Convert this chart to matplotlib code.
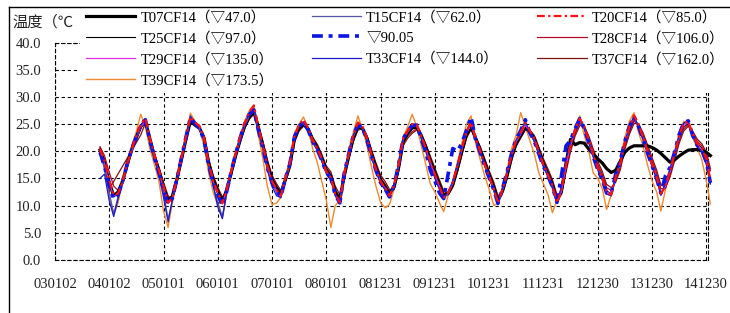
import numpy as np
import pandas as pd
import matplotlib
matplotlib.use("Agg")
import matplotlib.pyplot as plt
from matplotlib.lines import Line2D

nan = np.nan

# ---------------- data ----------------
dates = list(pd.date_range("2003-11-01", "2015-01-01", freq="MS")) + [pd.Timestamp("2015-01-28")]

x_tick_labels = ["030102", "040102", "050101", "060101", "070101", "080101", "081231",
                 "091231", "101231", "111231", "121230", "131230", "141230"]
y_ticks = [0.0, 5.0, 10.0, 15.0, 20.0, 25.0, 30.0, 35.0, 40.0]

T07 = [20.2, 17.8,
       14.3, 11.8, 12.5, 14.5, 17.5, 20.3, 22.5, 24.6, 25.5, 22.3, 19.0, 16.5,
       13.4, 10.8, 11.7, 14.8, 18.4, 22.2, 25.6, 24.8, 24.2, 22.4, 17.8, 14.8,
       12.6, 10.8, 12.8, 16.0, 19.2, 22.1, 24.6, 26.3, 27.3, 24.4, 21.0, 17.5,
       14.8, 13.2, 12.2, 14.8, 17.4, 22.3, 24.2, 25.0, 24.1, 22.2, 20.7, 18.8,
       16.5, 15.4, 12.6, 11.0, 15.6, 19.2, 22.4, 24.5, 24.2, 22.4, 19.5, 16.9,
       14.7, 13.4, 12.2, 13.4, 16.9, 21.8, 23.3, 24.3, 24.4, 22.9, 20.7, 18.3,
       16.0, 13.8, 11.9, 12.3, 13.8, 16.8, 20.0, 23.0, 24.5, 22.4, 20.3, 18.0,
       15.6, 13.4, 10.9, 12.7, 15.5, 19.0, 21.4, 22.9, 24.4, 23.6, 22.3, 20.0,
       17.7, 15.8, 13.9, 10.9, 12.6, 17.8, 22.2, 21.2, 21.6, 21.5, 20.4, 19.5,
       18.6, 17.8, 16.8, 16.1, 16.5, 18.2, 19.8, 20.6, 21.0, 21.0, 21.0, 21.0,
       20.7, 20.2, 19.6, 18.8, 18.0, 18.4, 19.1, 19.7, 20.2, 20.3, 20.3, 20.2,
       19.8, 19.2]

T15 = [19.6, 16.8,
       12.5, 8.5, 11.6, 14.0, 17.2, 20.0, 22.2, 24.4, 25.4, 21.8, 18.6, 15.6,
       12.3, 7.5, 10.9, 14.5, 18.3, 22.1, 26.2, 24.8, 24.0, 21.9, 17.1, 13.6,
       10.6, 8.0, 12.1, 15.9, 19.1, 22.0, 24.6, 26.4, 27.5, 23.9, 20.4, 16.9,
       14.0, 12.4, 11.4, 14.7, 17.4, 22.6, 24.5, 25.1, 23.8, 21.7, 20.2, 18.3,
       16.0, 14.8, 11.8, 10.4, 15.9, 19.4, 22.8, 24.9, 24.2, 22.0, 19.0, 16.3,
       14.1, 12.9, 11.5, 13.6, 17.3, 22.2, 23.6, 24.7, 24.6, 22.5, 20.1, 17.6,
       15.3, 13.1, 11.2, 12.3, 14.3, 17.4, 20.5, 23.6, 25.2, 22.0, 19.7, 17.3,
       15.0, 12.8, 10.3, 13.0, 16.0, 19.4, 21.9, 23.4, 25.0, 23.3, 21.8, 19.4,
       17.2, 15.3, 13.3, 10.4, 12.9, 17.8, 21.3, 24.1, 25.9, 24.1, 21.5, 18.9,
       16.5, 14.6, 12.1, 11.8, 15.5, 18.0, 21.6, 24.4, 26.3, 24.5, 22.1, 19.6,
       17.2, 14.8, 11.9, 13.9, 16.5, 19.6, 22.8, 25.0, 25.5, 22.8, 21.0, 20.1,
       17.8, 14.2]

T20 = [20.4, 18.2,
       14.8, 12.0, 12.2, 14.4, 17.6, 20.4, 22.8, 25.0, 26.0, 22.5, 19.3, 16.5,
       13.6, 10.5, 11.4, 14.9, 18.7, 22.7, 26.3, 25.3, 24.6, 22.5, 17.7, 14.6,
       12.4, 10.4, 12.8, 16.3, 19.6, 22.7, 25.2, 27.2, 28.4, 24.5, 21.0, 17.3,
       14.5, 12.9, 11.8, 15.1, 17.8, 22.9, 24.9, 25.8, 24.3, 22.1, 20.6, 18.6,
       16.3, 15.2, 12.2, 10.6, 16.0, 19.6, 23.0, 25.3, 24.6, 22.4, 19.3, 16.6,
       14.4, 13.2, 11.8, 13.7, 17.4, 22.4, 23.8, 25.0, 24.9, 22.9, 20.5, 18.0,
       15.7, 13.5, 11.5, 12.4, 14.3, 17.3, 20.5, 23.6, 25.3, 22.5, 20.1, 17.7,
       15.3, 13.1, 10.5, 13.0, 15.9, 19.4, 22.0, 23.5, 25.2, 23.8, 22.3, 19.9,
       17.5, 15.6, 13.7, 10.5, 12.7, 17.5, 21.2, 24.1, 26.0, 24.6, 22.0, 19.4,
       16.9, 15.0, 12.5, 12.0, 15.3, 17.8, 21.6, 24.5, 26.6, 25.0, 22.6, 20.1,
       17.6, 15.2, 12.2, 13.6, 16.3, 19.5, 22.8, 25.1, 25.5, 23.2, 21.4, 20.6,
       18.6, 14.6]

T25 = [20.1, 18.1,
       14.6, 12.0, 12.4, 14.2, 17.3, 20.0, 22.3, 24.4, 25.6, 22.3, 19.2, 16.5,
       13.6, 10.7, 11.6, 14.7, 18.4, 22.3, 25.8, 25.0, 24.3, 22.4, 17.7, 14.7,
       12.6, 10.6, 12.6, 16.0, 19.2, 22.2, 24.7, 26.5, 27.5, 24.3, 21.0, 17.4,
       14.7, 13.1, 12.0, 14.8, 17.4, 22.4, 24.3, 25.1, 24.1, 22.1, 20.6, 18.7,
       16.4, 15.4, 12.4, 10.8, 15.7, 19.2, 22.5, 24.6, 24.3, 22.4, 19.4, 16.8,
       14.6, 13.4, 12.0, 13.4, 17.0, 21.9, 23.3, 24.4, 24.5, 22.9, 20.6, 18.2,
       15.9, 13.7, 11.7, 12.1, 13.9, 16.9, 20.0, 23.1, 24.6, 22.4, 20.2, 17.9,
       15.5, 13.3, 10.7, 12.7, 15.6, 19.0, 21.5, 22.9, 24.5, 23.7, 22.3, 20.0,
       17.7, 15.8, 13.9, 10.7, 12.4, 17.1, 20.7, 23.6, 25.5, 24.5, 22.0, 19.5,
       17.1, 15.2, 12.7, 12.2, 15.0, 17.4, 21.1, 23.9, 25.9, 24.9, 22.6, 20.2,
       17.8, 15.4, 12.4, 13.3, 15.9, 19.0, 22.3, 24.5, 25.1, 23.2, 21.4, 20.6,
       18.6, 15.0]

V9005 = [19.8, 17.2,
         13.8, 11.2, 12.0, 14.4, 17.6, 20.4, 22.6, 24.8, 25.8, 22.0, 18.8, 16.0,
         13.0, 10.2, 11.3, 14.9, 18.7, 22.6, 26.2, 25.1, 24.2, 22.0, 17.3, 14.2,
         12.0, 10.0, 12.5, 16.2, 19.5, 22.5, 25.0, 26.8, 27.6, 23.9, 20.5, 16.9,
         14.2, 12.6, 11.6, 15.0, 17.7, 22.7, 24.6, 25.3, 23.9, 21.8, 20.3, 18.4,
         16.1, 15.0, 12.0, 10.5, 16.0, 19.6, 22.9, 24.9, 24.3, 22.0, 19.0, 16.4,
         14.2, 13.0, 11.6, 13.7, 17.5, 22.3, 23.7, 24.8, 24.8, 22.3, 19.8, 16.5,
         14.5, 12.3, 11.3, 16.0, 20.5, 20.0, 21.5, 23.8, 26.3, 22.2, 19.8, 17.4,
         15.1, 12.9, 10.4, 13.2, 16.2, 19.6, 22.2, 23.8, 25.8, 23.4, 21.8, 19.5,
         17.2, 15.4, 13.5, 10.6, 15.5, 21.0, 22.0, 24.2, 26.0, 24.2, 21.6, 19.0,
         16.6, 14.7, 12.3, 12.3, 15.8, 18.2, 21.8, 24.5, 26.4, 24.6, 22.2, 19.7,
         17.3, 14.9, 12.3, 15.5, 17.0, 19.8, 23.0, 25.2, 25.6, 22.9, 21.1, 20.2,
         18.0, 14.2]

T28 = [20.8, 19.2,
       16.2, 13.6, 12.8, 14.0, 17.0, 19.8, 22.0, 24.2, 25.4, 22.5, 19.5, 16.8,
       14.0, 11.5, 11.4, 14.5, 18.2, 22.0, 25.5, 25.0, 24.4, 22.6, 18.2, 15.2,
       13.0, 11.2, 12.6, 15.8, 19.0, 22.0, 24.5, 26.2, 27.2, 24.5, 21.4, 17.9,
       15.2, 13.6, 12.4, 14.6, 17.2, 22.0, 24.0, 24.9, 24.2, 22.4, 21.0, 19.1,
       16.9, 15.8, 13.0, 11.4, 15.3, 19.0, 22.2, 24.3, 24.3, 22.6, 19.8, 17.3,
       15.1, 13.9, 12.6, 13.2, 16.6, 21.5, 22.8, 23.6, 24.1, 23.0, 21.0, 18.7,
       16.4, 14.2, 12.2, 12.1, 13.7, 16.6, 19.7, 22.8, 24.3, 22.6, 20.6, 18.3,
       16.0, 13.8, 11.3, 12.6, 15.3, 18.7, 21.2, 22.7, 24.2, 23.8, 22.6, 20.4,
       18.1, 16.2, 14.3, 11.4, 12.2, 16.6, 20.3, 23.2, 25.1, 24.6, 22.4, 19.9,
       17.6, 15.7, 13.3, 12.8, 14.6, 17.0, 20.7, 23.5, 25.5, 25.0, 23.0, 20.7,
       18.3, 16.0, 13.1, 13.2, 15.5, 18.6, 21.8, 24.1, 24.9, 23.5, 21.8, 21.0,
       19.3, 16.4]

T29 = [20.0, 17.7,
       14.2, 11.7, 12.2, 14.4, 17.5, 20.2, 22.5, 24.6, 25.6, 22.0, 18.9, 16.2,
       13.3, 10.5, 11.5, 14.9, 18.6, 22.5, 26.0, 25.0, 24.2, 22.1, 17.4, 14.4,
       12.3, 10.4, 12.8, 16.2, 19.4, 22.4, 24.9, 26.8, 27.8, 24.0, 20.7, 17.1,
       14.4, 12.8, 11.7, 15.0, 17.6, 22.6, 24.6, 25.4, 24.0, 21.9, 20.4, 18.5,
       16.2, 15.1, 12.1, 10.6, 15.9, 19.4, 22.7, 24.8, 24.3, 22.2, 19.2, 16.6,
       14.4, 13.2, 11.8, 13.6, 17.2, 22.1, 23.5, 24.6, 24.6, 22.7, 20.4, 18.0,
       15.7, 13.5, 11.5, 12.3, 14.1, 17.1, 20.3, 23.3, 24.9, 22.2, 20.0, 17.7,
       15.3, 13.1, 10.5, 12.9, 15.8, 19.2, 21.7, 23.1, 24.8, 23.5, 22.1, 19.8,
       17.5, 15.6, 13.7, 10.5, 12.6, 17.3, 20.9, 23.8, 25.7, 24.3, 21.8, 19.3,
       16.9, 15.0, 12.5, 12.0, 15.2, 17.6, 21.3, 24.1, 26.1, 24.7, 22.4, 20.0,
       17.6, 15.2, 12.2, 13.5, 16.1, 19.2, 22.5, 24.7, 25.3, 23.0, 21.2, 20.3,
       18.0, 14.0]

T33 = [15.0, 15.8,
       11.0, 8.0, 11.2, 14.2, 17.5, 20.5, 22.5, 24.8, 26.0, 22.0, 18.8, 15.8,
       11.5, 7.0, 11.0, 14.8, 18.5, 22.5, 26.5, 25.2, 24.5, 22.0, 17.3, 13.8,
       9.8, 7.6, 12.3, 16.2, 19.5, 22.5, 25.0, 27.0, 27.8, 24.0, 20.5, 16.5,
       13.5, 11.8, 11.5, 15.0, 17.7, 22.7, 24.6, 25.4, 23.9, 21.7, 20.2, 18.2,
       15.9, 14.8, 11.9, 10.4, 16.0, 19.6, 22.9, 25.0, 24.3, 22.0, 18.9, 16.2,
       14.0, 12.9, 11.5, 13.8, 17.5, 22.3, 23.7, 24.9, 24.8, 22.4, 19.9, 17.3,
       15.0, 12.9, 11.2, 12.6, 14.5, 17.6, 20.7, 23.8, 25.6, 22.1, 19.8, 17.4,
       15.1, 12.9, 10.3, 13.1, 16.1, 19.5, 22.1, 23.6, 25.6, 23.3, 21.8, 19.4,
       17.2, 15.3, 13.3, 10.4, 13.5, 18.5, 21.6, 24.3, 26.0, 24.2, 21.6, 19.0,
       16.6, 14.7, 12.2, 11.8, 15.6, 18.1, 21.7, 24.5, 26.5, 24.5, 22.1, 19.6,
       17.2, 14.8, 11.9, 14.2, 16.8, 19.8, 22.9, 25.2, 25.6, 22.8, 20.9, 19.9,
       17.5, 14.0]

T37 = [20.6, 18.5,
       13.0, nan, nan, nan, nan, nan, nan, 23.0, 25.2, 22.6, 19.6, 17.0,
       14.3, 11.8, 11.2, 14.2, 18.0, 21.8, 25.2, 24.8, 24.4, 22.8, 18.6, 15.6,
       13.4, 11.6, 12.4, 15.5, 18.7, 21.7, 24.2, 25.9, 26.8, 24.7, 21.8, 18.4,
       15.6, 14.0, 12.8, 14.3, 16.9, 21.6, 23.7, 24.6, 24.3, 22.6, 21.3, 19.5,
       17.3, 16.2, 13.6, 12.0, 14.8, 18.6, 21.8, 23.9, 24.1, 22.8, 20.2, 17.8,
       15.6, 14.4, 13.0, 13.0, 16.2, 21.0, 22.4, 23.3, 23.9, 23.1, 21.3, 19.1,
       16.9, 14.7, 12.7, 12.0, 13.4, 16.2, 19.3, 22.4, 24.0, 22.7, 20.9, 18.7,
       16.4, 14.3, 11.8, 12.4, 15.0, 18.3, 20.9, 22.4, 23.9, 23.9, 22.9, 20.8,
       18.6, 16.7, 14.8, 12.0, 12.0, 16.2, 19.9, 22.8, 24.7, 24.7, 22.8, 20.4,
       18.1, 16.2, 13.9, 13.3, 14.3, 16.6, 20.3, 23.1, 25.1, 25.1, 23.4, 21.2,
       18.8, 16.5, 13.8, 13.4, 15.2, 18.2, 21.4, 23.7, 24.6, 23.7, 22.2, 21.4,
       19.8, 16.8]

T39 = [20.8, 17.0,
       12.0, 8.3, 10.5, 14.5, 18.0, 21.0, 23.5, 26.8, 24.5, 20.5, 17.5, 14.5,
       9.0, 6.0, 10.5, 14.5, 18.8, 23.0, 27.0, 25.5, 24.0, 21.0, 16.0, 12.5,
       10.0, 7.7, 12.0, 16.0, 19.5, 22.8, 25.5, 27.5, 28.5, 23.0, 18.5, 13.5,
       10.2, 10.5, 11.5, 14.5, 17.5, 23.0, 25.0, 26.3, 24.0, 20.5, 18.0, 14.5,
       11.0, 6.0, 10.0, 11.0, 15.8, 20.5, 23.5, 26.5, 24.0, 21.0, 17.0, 13.5,
       10.5, 9.6, 10.2, 13.0, 17.5, 22.5, 24.5, 26.8, 24.5, 21.0, 17.5, 14.0,
       12.5, 10.5, 8.9, 12.0, 14.5, 18.0, 21.5, 25.0, 26.5, 21.5, 18.5, 15.5,
       13.0, 10.0, 10.5, 13.5, 16.5, 20.5, 23.0, 27.1, 24.5, 22.0, 19.5, 16.0,
       14.0, 12.0, 8.7, 11.0, 13.0, 17.5, 21.5, 24.0, 26.5, 23.0, 20.0, 16.0,
       15.0, 13.0, 9.3, 12.0, 15.5, 18.5, 22.5, 25.5, 27.1, 23.5, 21.0, 17.5,
       14.5, 12.5, 9.0, 13.0, 16.5, 20.0, 23.0, 25.5, 25.0, 22.5, 20.5, 18.5,
       14.5, 10.3]

labels = {
    "T07": "T07CF14（▽47.0）", "T15": "T15CF14（▽62.0）", "T20": "T20CF14（▽85.0）",
    "T25": "T25CF14（▽97.0）", "V9005": "▽90.05", "T28": "T28CF14（▽106.0）",
    "T29": "T29CF14（▽135.0）", "T33": "T33CF14（▽144.0）", "T37": "T37CF14（▽162.0）",
    "T39": "T39CF14（▽173.5）",
}
values = {"T07": T07, "T15": T15, "T20": T20, "T25": T25, "V9005": V9005,
          "T28": T28, "T29": T29, "T33": T33, "T37": T37, "T39": T39}

styles = {
    "T07": dict(color="#000000", lw=2.3, ls="-"),
    "T15": dict(color="#5656a8", lw=0.9, ls="-"),
    "T20": dict(color="#ff1010", lw=1.6, ls=(0, (3.5, 1.5, 1.0, 1.5))),
    "T25": dict(color="#000000", lw=0.8, ls="-"),
    "V9005": dict(color="#0a14e6", lw=2.6, ls=(0, (3.0, 1.6, 1.1, 1.6))),
    "T28": dict(color="#b0102a", lw=0.9, ls="-"),
    "T29": dict(color="#e030e0", lw=0.9, ls="-"),
    "T33": dict(color="#1a1acc", lw=0.9, ls="-"),
    "T37": dict(color="#7e1010", lw=0.9, ls="-"),
    "T39": dict(color="#ee8a30", lw=1.0, ls="-"),
}
draw_order = ["T39", "T37", "T28", "T07", "T25", "T15", "T29", "T33", "V9005", "T20"]
legend_order = ["T07", "T25", "T29", "T39", "T15", "V9005", "T33", "T20", "T28", "T37"]

# ---------------- figure ----------------
W, H = 730, 313
fig = plt.figure(figsize=(W / 100, H / 100), dpi=100)
fig.patch.set_facecolor("white")
ax = fig.add_axes([55 / W, 1 - 260 / H, (707.7 - 55) / W, (260 - 42.5) / H])

d_arr = pd.to_datetime(pd.Series(dates))
handles = {}
for key in draw_order:
    v = np.array(values[key], dtype=float)
    m = ~np.isnan(v)
    st = styles[key]
    ln, = ax.plot(d_arr[m], v[m], color=st["color"], lw=st["lw"], linestyle=st["ls"],
                  label=labels[key], clip_on=False, zorder=3)
    handles[key] = ln

tick_dates = pd.to_datetime(["20" + s for s in x_tick_labels], format="%Y%m%d")
ax.set_xlim(pd.Timestamp("2003-01-02"), pd.Timestamp("2015-01-10"))
ax.set_ylim(0, 40)
ax.set_xticks(tick_dates)
ax.set_xticklabels(x_tick_labels)
ax.set_yticks(y_ticks)
ax.set_yticklabels([f"{t:.1f}" for t in y_ticks])

tick_font = dict(family=["Liberation Serif", "DejaVu Serif"], size=10.5)
for lab in ax.get_xticklabels() + ax.get_yticklabels():
    lab.set_fontfamily(tick_font["family"])
    lab.set_fontsize(tick_font["size"])
    lab.set_color("#222222")
ax.tick_params(axis="both", length=0)
ax.tick_params(axis="x", pad=13)
ax.tick_params(axis="y", pad=10)

ax.grid(True, color="black", lw=0.8, linestyle=(0, (3, 2.5)))
ax.set_axisbelow(True)
for sp in ax.spines.values():
    sp.set_linestyle((0, (3, 2.5)))
    sp.set_linewidth(0.8)
    sp.set_color("black")

leg = ax.legend([handles[k] for k in legend_order], [labels[k] for k in legend_order],
                ncol=3, loc="upper left", bbox_to_anchor=(80 / W, 1 - 4.5 / H),
                bbox_transform=fig.transFigure,
                prop=dict(family=["Liberation Serif", "Noto Sans CJK SC", "DejaVu Sans"], size=10.5),
                frameon=True, fancybox=False, framealpha=1.0, edgecolor="none",
                facecolor="white", borderpad=0.4, borderaxespad=0.0,
                handlelength=3.4, handletextpad=0.35, columnspacing=2.6, labelspacing=0.49)
leg.set_zorder(10)

fig.text(12 / W, 1 - 22.5 / H, "温度（℃", fontsize=11,
         family=["Noto Sans CJK SC", "DejaVu Sans"], va="center", ha="left", color="#222222")

fig.add_artist(Line2D([9 / W, 9 / W], [0, 1 - 6.7 / H], transform=fig.transFigure, color="black", lw=1.0))
fig.add_artist(Line2D([9 / W, 1], [1 - 6.7 / H, 1 - 6.7 / H], transform=fig.transFigure, color="black", lw=1.0))

fig.savefig("out.png", dpi=100, facecolor="white")
